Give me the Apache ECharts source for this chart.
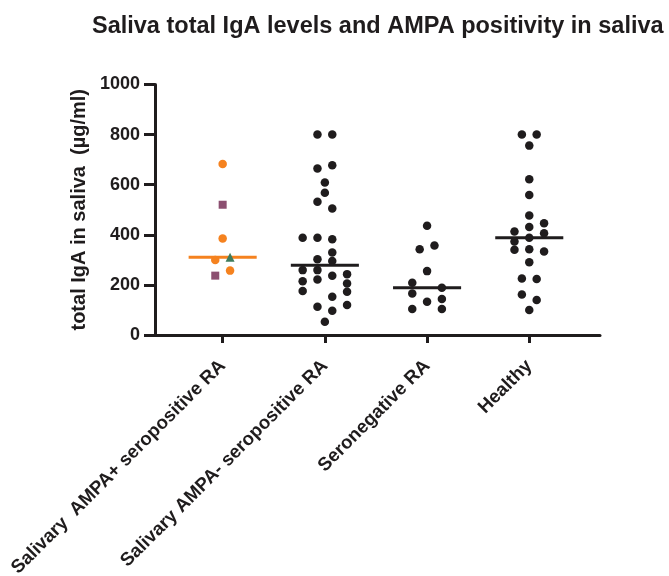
<!DOCTYPE html>
<html>
<head>
<meta charset="utf-8">
<script src="https://cdn.jsdelivr.net/npm/echarts@6/dist/echarts.min.js"></script>
<style>html,body{margin:0;padding:0;background:#fff}#c{width:669px;height:576px}</style>
</head>
<body>
<div id="c"></div>
<script>
// ---- data ----
const categories = ['Salivary  AMPA+ seropositive RA', 'Salivary AMPA- seropositive RA', 'Seronegative RA', 'Healthy'];
const yTickLabels = ['0', '200', '400', '600', '800', '1000'];
// group 1 (AMPA+), by marker type: values and jitter columns (half-dot steps)
const g1CircleValues = [683, 385, 299, 257];
const g1CircleCols   = [0, 0, -1, 1];
const g1SquareValues = [520, 237];
const g1SquareCols   = [0, -1];
const g1TriangleValues = [310];
const g1TriangleCols   = [1];
// group 2 (AMPA- seropositive)
const g2Values = [800, 800, 665, 678, 609, 568, 532, 505, 388, 388, 382, 329, 302, 295, 259, 259, 237, 243, 215, 222, 206, 176, 173, 153, 113, 120, 97, 53];
const g2Cols   = [-1, 1, -1, 1, 0, 0, -1, 1, -3, -1, 1, 1, -1, 1, -3, -1, 1, 3, -3, -1, 3, -3, 3, 1, -1, 3, 1, 0];
// group 3 (Seronegative)
const g3Values = [436, 342, 357, 255, 209, 166, 189, 133, 144, 104, 104];
const g3Cols   = [0, -1, 1, 0, -2, -2, 2, 0, 2, -2, 2];
// group 4 (Healthy)
const g4Values = [800, 800, 756, 622, 559, 477, 446, 413, 431, 406, 388, 373, 340, 342, 333, 290, 226, 224, 162, 140, 100];
const g4Cols   = [-1, 1, 0, 0, 0, 0, 2, -2, 0, 2, 0, -2, -2, 0, 2, 0, -1, 1, -1, 1, 0];
// medians
const medians = [310, 278, 189, 388];

// ---- style constants ----
const STEP = 0.0724;      // half dot width in category units
const HALF = 0.333;       // half length of median bar
const INK = '#1f1c1d';
const ORANGE = '#f5821f';
const PURPLE = '#8c4f70';
const GREEN = '#3f7c5c';
const FONT = '"Liberation Sans", Arial, sans-serif';

function pts(group, vals, cols) {
  return vals.map((v, i) => [group + cols[i] * STEP, v]);
}

const blackData = [].concat(pts(2, g2Values, g2Cols), pts(3, g3Values, g3Cols), pts(4, g4Values, g4Cols));

const medianSeries = medians.map((m, i) => ({
  type: 'line',
  data: [[i + 1 - HALF, m], [i + 1 + HALF, m]],
  symbol: 'none',
  lineStyle: { color: i === 0 ? ORANGE : INK, width: 3, opacity: 1 },
  z: 3,
  silent: true
}));

const dotStyle = c => ({ color: c, opacity: 1 });

const chart = echarts.init(document.getElementById('c'), null, { renderer: 'canvas' });
chart.setOption({
  animation: false,
  backgroundColor: '#fff',
  title: {
    text: 'Saliva total IgA levels and AMPA positivity in saliva',
    left: 87, top: 10,
    textStyle: { fontFamily: FONT, fontWeight: 'bold', fontSize: 23.5, color: INK }
  },
  grid: { left: 155, right: 69, top: 84.5, bottom: 241, outerBoundsMode: 'none', containLabel: false },
  xAxis: {
    type: 'value',
    min: 0.338, max: 4.692,
    splitLine: { show: false },
    axisLine: { show: true, lineStyle: { color: INK, width: 3 } },
    axisTick: { show: true, customValues: [1, 2, 3, 4], length: 8, lineStyle: { color: INK, width: 3 } },
    axisLabel: {
      customValues: [1, 2, 3, 4],
      rotate: 45, margin: 28,
      formatter: v => categories[Math.round(v) - 1],
      fontFamily: FONT, fontWeight: 'bold', fontSize: 18.7, color: INK
    }
  },
  yAxis: {
    type: 'value',
    min: 0, max: 1000, interval: 200,
    name: 'total IgA in saliva  (µg/ml)',
    nameLocation: 'middle', nameGap: 64,
    nameTextStyle: { fontFamily: FONT, fontWeight: 'bold', fontSize: 20, color: INK },
    splitLine: { show: false },
    axisLine: { show: true, lineStyle: { color: INK, width: 3 } },
    axisTick: { show: true, length: 11, lineStyle: { color: INK, width: 3 } },
    axisLabel: {
      margin: 15,
      formatter: v => yTickLabels[Math.round(v / 200)],
      fontFamily: FONT, fontWeight: 'bold', fontSize: 18, color: INK
    }
  },
  series: medianSeries.concat([
    { type: 'scatter', data: blackData, symbol: 'circle', symbolSize: 8.5, itemStyle: dotStyle(INK), z: 4 },
    { type: 'scatter', data: pts(1, g1CircleValues, g1CircleCols), symbol: 'circle', symbolSize: 8.5, itemStyle: dotStyle(ORANGE), z: 4 },
    { type: 'scatter', data: pts(1, g1SquareValues, g1SquareCols), symbol: 'rect', symbolSize: 8, itemStyle: dotStyle(PURPLE), z: 4 },
    { type: 'scatter', data: pts(1, g1TriangleValues, g1TriangleCols), symbol: 'triangle', symbolSize: 9, itemStyle: dotStyle(GREEN), z: 4 }
  ])
});
</script>
</body>
</html>
